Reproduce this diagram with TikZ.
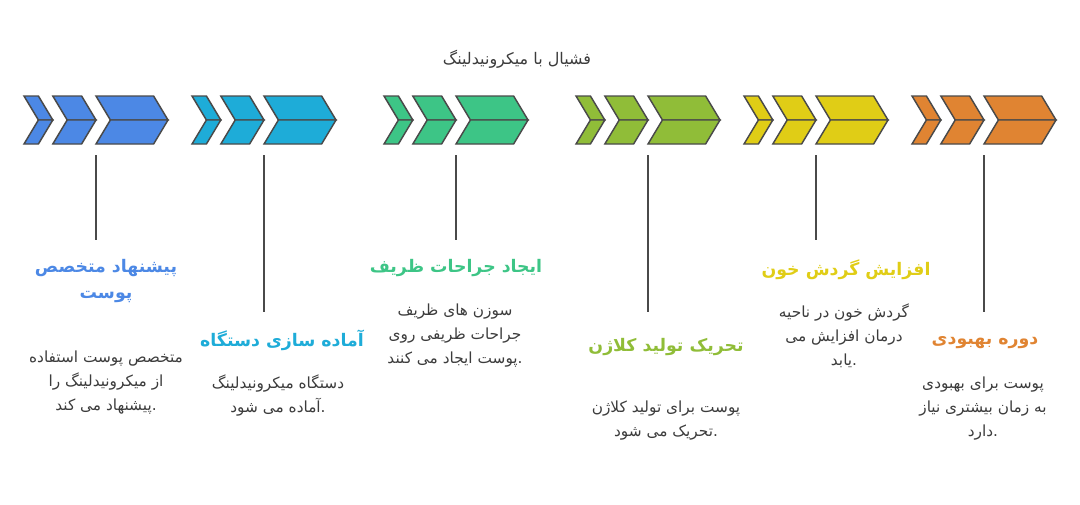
\documentclass[tikz,border=0pt]{standalone}
\usepackage{fontspec}
\newfontfamily\arabicfont[Script=Arabic]{DejaVu Sans}
\TeXXeTstate=1
\definecolor{cblue}{HTML}{4C88E5}
\definecolor{ccyan}{HTML}{1EACD8}
\definecolor{cgreen}{HTML}{3DC586}
\definecolor{colive}{HTML}{90BD38}
\definecolor{cyellow}{HTML}{E0CD16}
\definecolor{corange}{HTML}{E08432}
\definecolor{edge}{HTML}{4A4A4A}
\definecolor{tgray}{HTML}{3C3C3C}

\begin{document}
\begin{tikzpicture}
  [x=0.75pt,y=-0.75pt,
   chev/.style={draw=edge,line width=1.1pt,line join=miter},
   stem/.style={draw=edge,line width=1.2pt},
   head/.style={font=\arabicfont\bfseries\fontsize{13}{20}\selectfont,align=center},
   desc/.style={font=\arabicfont\fontsize{11.5}{18}\selectfont,text=tgray,align=center}]
  \useasboundingbox (0,0) rectangle (1080,504);
  \foreach \x/\c in {24/cblue,192/ccyan,384/cgreen,576/colive,744/cyellow,912/corange}
    \foreach \l/\w in {0/14.4,28.8/28.8,72/57.6}
      {\filldraw[chev,fill=\c] (\x+\l,96) -- (\x+\l+\w,96) -- (\x+\l+\w+14.4,120) -- (\x+\l+14.4,120) -- cycle;
       \filldraw[chev,fill=\c] (\x+\l+14.4,120) -- (\x+\l+\w+14.4,120) -- (\x+\l+\w,144) -- (\x+\l,144) -- cycle;}
  \node[desc,font=\arabicfont\fontsize{12}{15}\selectfont] (t) at (517,59) {\beginR فشیال با میکرونیدلینگ\endR};
  \node[head,text=cblue] (h1) at (106,281) {\beginR پیشنهاد متخصص\endR\\ \beginR پوست\endR};
  \node[desc] (d1) at (106,383) {\beginR متخصص پوست استفاده\endR\\ \beginR از میکرونیدلینگ را\endR\\ \beginR پیشنهاد می کند\endR.};
  \node[head,text=ccyan] (h2) at (282,340) {\beginR آماده سازی دستگاه\endR};
  \node[desc] (d2) at (278,395) {\beginR دستگاه میکرونیدلینگ\endR\\ \beginR آماده می شود\endR.};
  \node[head,text=cgreen] (h3) at (456,268) {\beginR ایجاد جراحات ظریف\endR};
  \node[desc] (d3) at (455,336) {\beginR سوزن های ظریف\endR\\ \beginR جراحات ظریفی روی\endR\\ \beginR پوست ایجاد می کنند\endR.};
  \node[head,text=colive] (h4) at (666,347) {\beginR تحریک تولید کلاژن\endR};
  \node[desc] (d4) at (666,421) {\beginR پوست برای تولید کلاژن\endR\\ \beginR تحریک می شود\endR.};
  \node[head,text=cyellow] (h5) at (846,270) {\beginR افزایش گردش خون\endR};
  \node[desc] (d5) at (844,336) {\beginR گردش خون در ناحیه\endR\\ \beginR درمان افزایش می\endR\\ \beginR یابد\endR.};
  \node[head,text=corange] (h6) at (985,343) {\beginR دوره بهبودی\endR};
  \node[desc] (d6) at (983,409) {\beginR پوست برای بهبودی\endR\\ \beginR به زمان بیشتری نیاز\endR\\ \beginR دارد\endR.};
  \foreach \i/\x/\e in {1/96/240,2/264/312,3/456/240,4/648/312,5/816/240,6/984/312}
    {\coordinate (s\i) at (\x,155);
     \coordinate (e\i) at (\x,\e);
     \draw[stem] (s\i) -- (e\i);}
\end{tikzpicture}
\end{document}
